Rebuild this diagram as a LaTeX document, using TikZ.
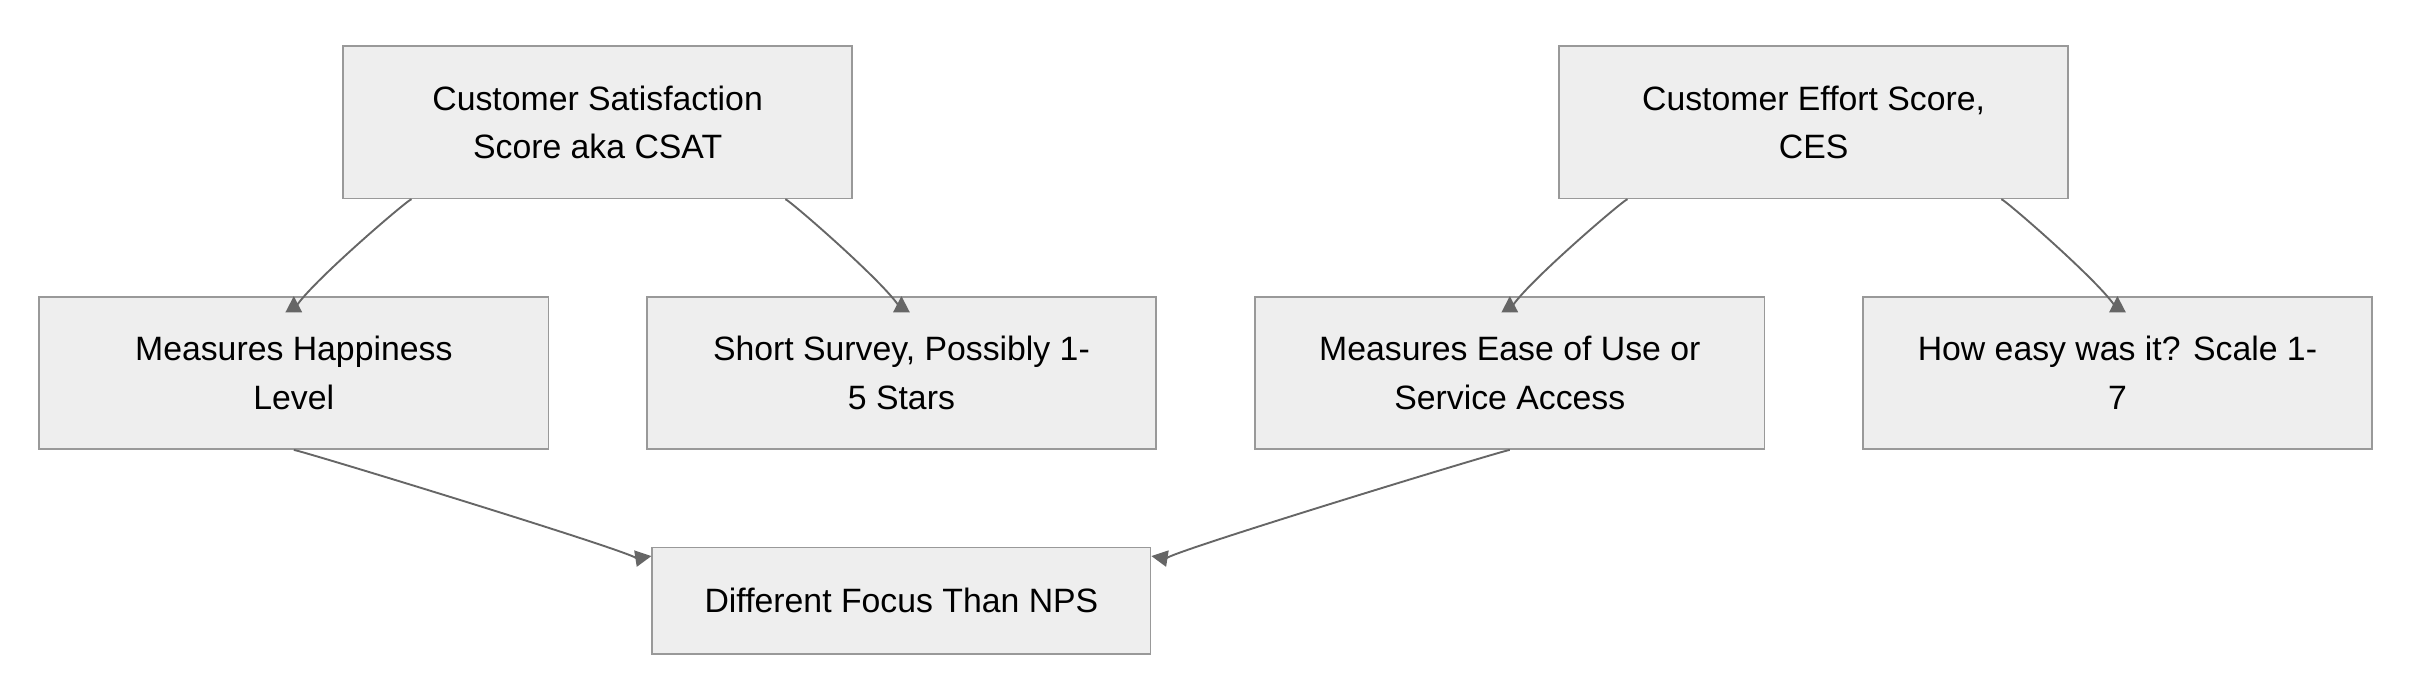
\documentclass[tikz,border=0pt]{standalone}
\usepackage{fontspec}
\setmainfont{Liberation Sans}
\usetikzlibrary{positioning, arrows.meta}
\definecolor{boxfill}{HTML}{EEEEEE}
\definecolor{boxline}{HTML}{999999}
\definecolor{edgeline}{HTML}{666666}

\begin{document}
\begin{tikzpicture}[x=0.02cm, y=-0.02cm,
  main/.style = {draw=boxline, fill=boxfill, line width=0.6pt, minimum width=6.62cm, minimum height=1.98cm, align=center, font=\fontsize{12.5}{18}\selectfont},
  link/.style = {draw=edgeline, line width=0.7pt, -{Triangle[length=6pt, width=6pt]}}]
    \useasboundingbox (0,0) rectangle (1568,455);
    % Nodes
    \node[main] (csat) at (388.5,79.5) {Customer Satisfaction\\Score aka CSAT};
    \node[main] (ces) at (1179,79.5) {Customer Effort Score,\\CES};
    \node[main] (happy) at (191,242.5) {Measures Happiness\\Level};
    \node[main] (survey) at (586,242.5) {Short Survey, Possibly 1-\\5 Stars};
    \node[main] (ease) at (981.5,242.5) {Measures Ease of Use or\\Service Access};
    \node[main] (scale) at (1376.5,242.5) {How easy was it? Scale 1-\\7};
    \node[main, minimum width=6.48cm, minimum height=1.38cm] (diff) at (586,390.5) {Different Focus Than NPS};

    % Lines
    \draw[link] ([xshift=0.9cm]csat.south west) .. controls +(-1.5,-0.6) and +(0,0.7) .. (happy.north);
    \draw[link] ([xshift=-0.88cm]csat.south east) .. controls +(1.5,-0.6) and +(0,0.7) .. (survey.north);
    \draw[link] ([xshift=0.9cm]ces.south west) .. controls +(-1.5,-0.6) and +(0,0.7) .. (ease.north);
    \draw[link] ([xshift=-0.88cm]ces.south east) .. controls +(1.5,-0.6) and +(0,0.7) .. (scale.north);
    \draw[link] (happy.south) .. controls +(0,-1.1) and +(-2.2,0.35) .. ([yshift=-0.12cm]diff.north west);
    \draw[link] (ease.south) .. controls +(0,-1.1) and +(2.2,0.35) .. ([yshift=-0.12cm]diff.north east);
\end{tikzpicture}
\end{document}
